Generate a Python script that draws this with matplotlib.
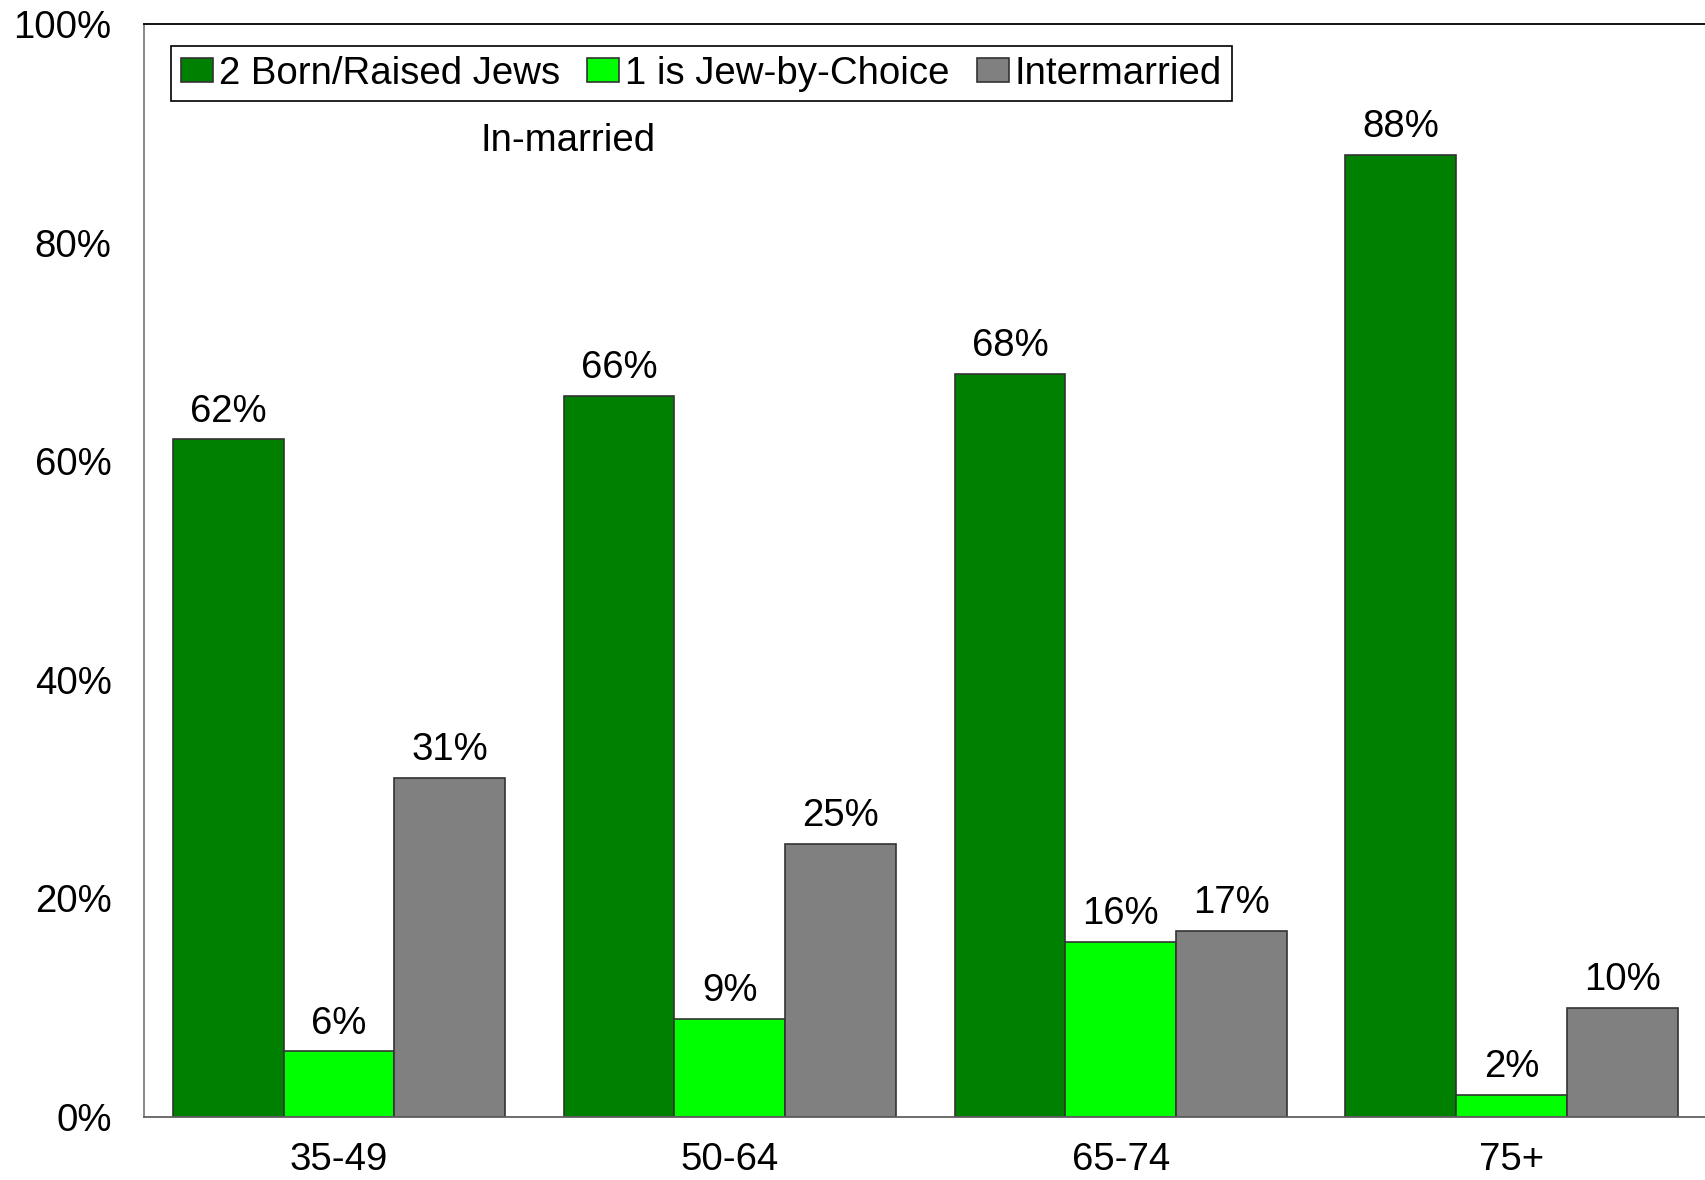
import numpy as np
import matplotlib.pyplot as plt

plt.rcParams['font.family'] = ['Liberation Sans', 'DejaVu Sans']

ages = ['35-49', '50-64', '65-74', '75+']
born_raised = [62, 66, 68, 88]
jew_by_choice = [6, 9, 16, 2]
intermarried = [31, 25, 17, 10]

series = [
    ('2 Born/Raised Jews', born_raised, '#008000'),
    ('1 is Jew-by-Choice', jew_by_choice, '#00FF00'),
    ('Intermarried', intermarried, '#808080'),
]

fig = plt.figure(figsize=(17.05, 11.8), dpi=100)
ax = fig.add_axes([143.5 / 1705, 63 / 1180, 1563.5 / 1705, 1093 / 1180])

x = np.arange(len(ages))
w = 0.85 / 3
fs = 27.6
for i, (name, vals, col) in enumerate(series):
    pos = x + (i - 1) * w
    bars = ax.bar(pos, vals, w, color=col, edgecolor='#333333', linewidth=1.2, label=name)
    for b, v in zip(bars, vals):
        ax.annotate(f'{v}%', (b.get_x() + b.get_width() / 2, v), xytext=(0, 7),
                    textcoords='offset points', ha='center', va='bottom', fontsize=fs)

ax.set_xlim(-0.5, 3.5)
ax.set_ylim(0, 100)
ax.set_yticks(range(0, 101, 20))
ax.set_yticklabels([f'{t}%' for t in range(0, 101, 20)])
ax.set_xticks(x)
ax.set_xticklabels(ages)
ax.tick_params(axis='both', length=0, labelsize=fs)
ax.tick_params(axis='y', pad=23)
ax.tick_params(axis='x', pad=18)

ax.spines['right'].set_visible(False)
ax.spines['top'].set_color('black')
ax.spines['left'].set_color('#808080')
ax.spines['bottom'].set_color('#606060')
for s in ax.spines.values():
    s.set_linewidth(1.3)

ax.text(568 / 1705, 1 - 141 / 1180, 'In-married', transform=fig.transFigure,
        ha='center', va='center', fontsize=fs)

leg = ax.legend(loc='upper left', bbox_to_anchor=(171 / 1705, 1 - 46 / 1180),
                bbox_transform=fig.transFigure, ncol=3, fontsize=fs,
                frameon=True, fancybox=False, edgecolor='black', framealpha=1,
                handlelength=0.85, handleheight=0.6, handletextpad=0.15,
                columnspacing=0.7, borderpad=0.25, borderaxespad=0)
leg.get_frame().set_linewidth(1.2)

fig.savefig('out.png', dpi=100)
